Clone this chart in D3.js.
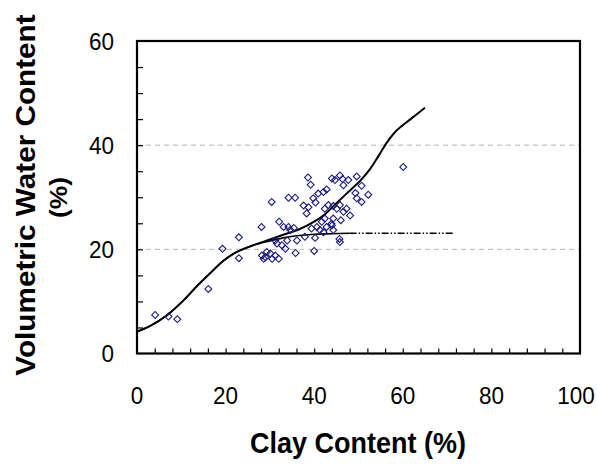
<!DOCTYPE html>
<html>
<head>
<meta charset="utf-8">
<script src="https://cdn.jsdelivr.net/npm/d3@7/dist/d3.min.js"></script>
<style>
  body { margin: 0; background: #fff; }
  text { font-family: "Liberation Sans", Arial, sans-serif; }
</style>
</head>
<body>
<script>
var w = 597;
var h = 464;

var xTicks = [0, 20, 40, 60, 80, 100];
var yTicks = [0, 20, 40, 60];
var gridValues = [20, 40];

// measured points (clay %, water %)
var clay = [4.1, 7.1, 9.1, 16.1, 19.3, 23.0, 23.0, 28.1, 28.2, 28.6, 29.0, 29.3, 30.1, 30.5,
  31.2, 32.0, 30.4, 31.2, 31.6, 32.7, 33.5, 33.9, 32.1, 33.1, 34.2, 34.6, 35.4, 34.2, 35.7,
  36.1, 35.8, 37.9, 37.6, 40.0, 38.6, 39.2, 39.8, 40.9, 42.1, 42.8, 38.7, 38.3, 42.4, 43.2,
  44.3, 45.1, 45.8, 46.6, 47.3, 48.1, 49.6, 50.7, 44.3, 42.4, 41.7, 40.6, 39.4, 41.3, 42.8,
  44.0, 44.3, 40.2, 45.7, 45.8, 44.0, 44.7, 45.8, 46.4, 47.7, 49.6, 46.6, 50.7, 52.2, 46.0,
  49.3, 40.3, 43.9, 42.1, 60.1];
var water = [7.4, 7.1, 6.6, 12.4, 20.1, 22.3, 18.3, 24.3, 18.8, 18.2, 18.5, 19.5, 19.2, 18.2,
  18.8, 18.2, 29.1, 21.7, 21.1, 20.8, 20.1, 21.7, 25.3, 24.3, 24.3, 23.7, 24.1, 29.9, 29.9,
  21.7, 19.3, 22.4, 28.4, 19.7, 33.8, 32.4, 29.8, 30.7, 31.0, 31.5, 28.1, 26.9, 27.8, 28.5,
  28.3, 27.8, 28.5, 27.2, 27.8, 26.5, 29.8, 29.1, 25.9, 25.9, 25.3, 24.3, 24.0, 23.7, 24.3,
  24.6, 23.7, 22.2, 22.0, 21.4, 33.6, 33.3, 34.2, 33.5, 33.3, 34.0, 32.3, 32.2, 30.5, 25.6,
  30.8, 29.0, 24.9, 23.3, 35.8];

// fitted curve (upper)
var fitClay = [0, 3, 6.7, 10.5, 13.5, 16.5, 19.5, 22.5, 26.3, 30, 33, 36.5, 40, 42.5, 44.6,
  47.3, 50.3, 52.6, 54.5, 56.4, 58.7, 61.9, 65];
var fitWater = [4.2, 5.3, 7.3, 10.2, 12.9, 15.4, 17.8, 19.5, 20.8, 21.9, 22.8, 23.8, 25.3,
  26.8, 28.5, 30.7, 33.1, 35.4, 37.9, 40.5, 42.9, 45.1, 47.2];

// plateau curve (lower)
var plateauClay = [0, 3, 6.7, 10.5, 13.5, 16.5, 19.5, 22.5, 26.3, 30, 33, 36, 40, 44, 48];
var plateauWater = [4.2, 5.3, 7.3, 10.2, 12.9, 15.4, 17.8, 19.5, 20.8, 21.6, 22.2, 22.6, 22.9, 23.0, 23.1];
var extClay = [48, 71.4];
var extWater = [23.1, 23.1];

var plotLeft = 137, plotRight = 580, plotTop = 41, plotBottom = 353.5;

var x = d3.scaleLinear().domain([0, 100]).range([plotLeft, plotRight]);
var y = d3.scaleLinear().domain([0, 60]).range([plotBottom, plotTop]);

var svg = d3.select("body").append("svg").attr("width", w).attr("height", h);

// dashed grid
svg.selectAll("line.grid")
  .data(gridValues)
  .enter()
  .append("line")
  .attr("class", "grid")
  .attr("x1", plotLeft)
  .attr("x2", plotRight)
  .attr("y1", function (d) { return y(d); })
  .attr("y2", function (d) { return y(d); })
  .attr("stroke", "#b4b4b4")
  .attr("stroke-width", 1)
  .attr("stroke-dasharray", "5,4");

// inner ticks
svg.append("g")
  .attr("transform", "translate(0," + plotBottom + ")")
  .call(d3.axisTop(x).tickValues(d3.range(4, 100, 4)).tickSize(5).tickFormat(""))
  .call(function (g) { g.select(".domain").remove(); })
  .selectAll("line").attr("stroke", "#000").attr("stroke-width", 1.2);

svg.append("g")
  .attr("transform", "translate(" + plotLeft + ",0)")
  .call(d3.axisRight(y).tickValues(d3.range(5, 60, 5)).tickSize(6).tickFormat(""))
  .call(function (g) { g.select(".domain").remove(); })
  .selectAll("line").attr("stroke", "#000").attr("stroke-width", 1.2);

// curves
var line = d3.line()
  .x(function (d) { return x(d[0]); })
  .y(function (d) { return y(d[1]); })
  .curve(d3.curveCatmullRom.alpha(0.5));

svg.append("path")
  .datum(d3.zip(plateauClay, plateauWater))
  .attr("d", line)
  .attr("fill", "none")
  .attr("stroke", "#000")
  .attr("stroke-width", 1.6);

svg.append("path")
  .datum(d3.zip(extClay, extWater))
  .attr("d", line)
  .attr("fill", "none")
  .attr("stroke", "#000")
  .attr("stroke-width", 1.4)
  .attr("stroke-dasharray", "7,2,1.5,2,1.5,2");

svg.append("path")
  .datum(d3.zip(fitClay, fitWater))
  .attr("d", line)
  .attr("fill", "none")
  .attr("stroke", "#000")
  .attr("stroke-width", 2);

// data points
var diamond = d3.symbol().type(d3.symbolSquare).size(24);
svg.selectAll("path.pt")
  .data(d3.zip(clay, water))
  .enter()
  .append("path")
  .attr("class", "pt")
  .attr("d", diamond)
  .attr("transform", function (d) {
    return "translate(" + x(d[0]) + "," + y(d[1]) + ") rotate(45)";
  })
  .attr("fill", "none")
  .attr("stroke", "#1c1c82")
  .attr("stroke-width", 1.1);

// frame
svg.append("rect")
  .attr("x", plotLeft)
  .attr("y", plotTop)
  .attr("width", plotRight - plotLeft)
  .attr("height", plotBottom - plotTop)
  .attr("fill", "none")
  .attr("stroke", "#000")
  .attr("stroke-width", 2.2);

// tick labels (last one kept inside the page edge)
svg.selectAll("g.xlab")
  .data(xTicks)
  .enter()
  .append("g")
  .attr("class", "xlab")
  .attr("transform", function (d) {
    return "translate(" + Math.min(x(d), w - 21) + ",395) scale(1,1.1)";
  })
  .append("text")
  .attr("y", 8.1)
  .attr("text-anchor", "middle")
  .attr("font-size", 22.5)
  .attr("fill", "#000")
  .text(function (d) { return d; });

svg.selectAll("g.ylab")
  .data(yTicks)
  .enter()
  .append("g")
  .attr("class", "ylab")
  .attr("transform", function (d) { return "translate(114," + y(d) + ") scale(1,1.1)"; })
  .append("text")
  .attr("y", 8.1)
  .attr("text-anchor", "end")
  .attr("font-size", 22.5)
  .attr("fill", "#000")
  .text(function (d) { return d; });

// axis titles
svg.append("text")
  .attr("transform", "translate(358,453) scale(1,1.1)")
  .attr("text-anchor", "middle")
  .attr("font-size", 27)
  .attr("font-weight", "bold")
  .text("Clay Content (%)");

svg.append("text")
  .attr("transform", "translate(35,195) scale(1,1.1) rotate(-90)")
  .attr("text-anchor", "middle")
  .attr("font-size", 27)
  .attr("font-weight", "bold")
  .text("Volumetric Water Content");

svg.append("text")
  .attr("transform", "translate(66.5,197.5) scale(1,1.1) rotate(-90)")
  .attr("text-anchor", "middle")
  .attr("font-size", 24)
  .attr("font-weight", "bold")
  .text("(%)");
</script>
</body>
</html>
